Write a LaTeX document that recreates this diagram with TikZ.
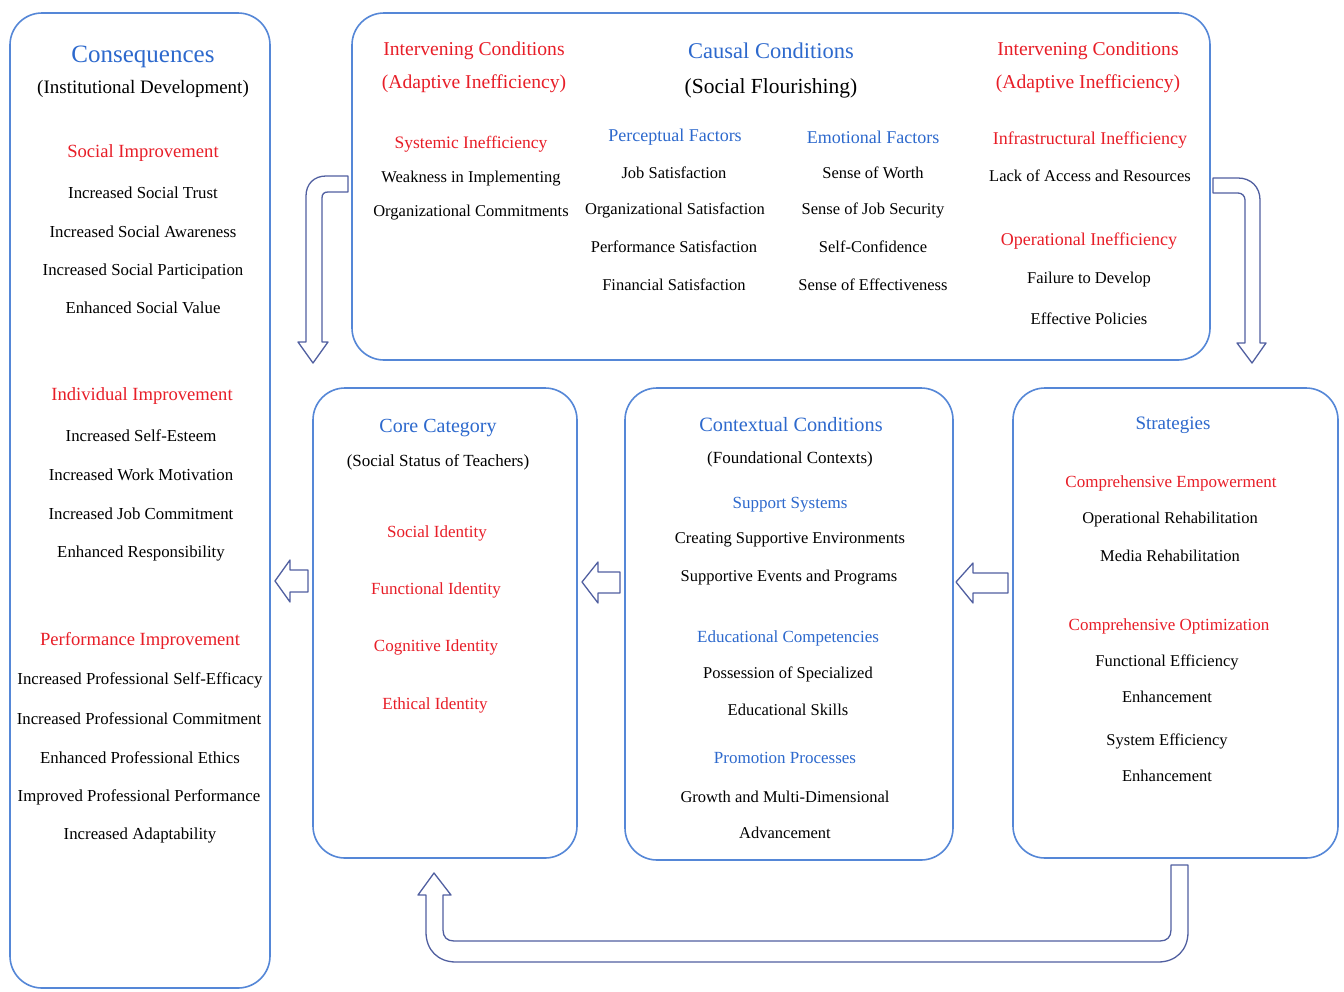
\documentclass[tikz,border=0pt]{standalone}
\usepackage{fontspec}
\setmainfont{Liberation Serif}
\definecolor{boxblue}{RGB}{85,135,215}
\definecolor{arrowc}{RGB}{80,95,160}
\definecolor{headblue}{RGB}{45,105,205}
\definecolor{headred}{RGB}{232,30,40}
\begin{document}
\begin{tikzpicture}[x=1pt,y=-1pt,
  box/.style={draw=boxblue, line width=1.6pt, rounded corners=32pt, inner sep=0pt, outer sep=0pt},
  tx/.style={font=\fontsize{16.5}{19}\selectfont, text=black, inner sep=0pt},
  ltx/.style={font=\fontsize{16.8}{20}\selectfont, text=black, inner sep=0pt},
  sub/.style={font=\fontsize{19}{22}\selectfont, text=black, inner sep=0pt},
  rh/.style={font=\fontsize{17}{20}\selectfont, text=headred, inner sep=0pt},
  trh/.style={font=\fontsize{18}{21}\selectfont, text=headred, inner sep=0pt},
  lrh/.style={font=\fontsize{18.6}{22}\selectfont, text=headred, inner sep=0pt},
  bh/.style={font=\fontsize{17}{20}\selectfont, text=headblue, inner sep=0pt},
  ttl/.style={font=\fontsize{21}{25}\selectfont, text=headblue, inner sep=0pt},
  rttl/.style={font=\fontsize{19.6}{23}\selectfont, text=headred, inner sep=0pt},
  arr/.style={draw=arrowc, line width=1.3pt, fill=white, line join=round}]
\useasboundingbox (0,0) rectangle (1344,991);
\fill[white] (0,0) rectangle (1344,991);

% boxes
\node[box, minimum width=260, minimum height=975, anchor=north west] (cons) at (10,13) {};
\node[box, minimum width=858, minimum height=347, anchor=north west] (top) at (352,13) {};
\node[box, minimum width=264, minimum height=470, anchor=north west] (core) at (313,388) {};
\node[box, minimum width=328, minimum height=472, anchor=north west] (ctx) at (625,388) {};
\node[box, minimum width=325, minimum height=470, anchor=north west] (strat) at (1013,388) {};

% arrows
\draw[arr] (348,176) -- (326,176) .. controls (314,176) and (306,184) .. (306,196) -- (306,342) -- (298,342) -- (313,363) -- (328,342) -- (322,342) -- (322,198) .. controls (322,194) and (324,192) .. (328,192) -- (348,192) -- cycle;
\draw[arr] (1213,178) -- (1238,178) .. controls (1251,178) and (1260,187) .. (1260,200) -- (1260,343) -- (1266,343) -- (1252,363) -- (1237,343) -- (1245,343) -- (1245,200) .. controls (1245,196) and (1242,193) .. (1238,193) -- (1213,193) -- cycle;
\draw[arr] (275,581) -- (290,560) -- (290,570) -- (308,570) -- (308,592) -- (290,592) -- (290,602) -- cycle;
\draw[arr] (582,582) -- (598,562) -- (598,572) -- (620,572) -- (620,593) -- (598,593) -- (598,603) -- cycle;
\draw[arr] (956,582) -- (973,563) -- (973,573) -- (1008,573) -- (1008,593) -- (973,593) -- (973,603) -- cycle;
\draw[arr] (1171,865) -- (1188,865) -- (1188,932) .. controls (1188,950) and (1176,962) .. (1158,962) -- (456,962) .. controls (438,962) and (426,950) .. (426,932) -- (426,895) -- (418,895) -- (434,873) -- (451,895) -- (443,895) -- (443,930) .. controls (443,937) and (447,941) .. (454,941) -- (1160,941) .. controls (1167,941) and (1171,937) .. (1171,930) -- cycle;

% Consequences
\node[ttl, font=\fontsize{25}{29}\selectfont] (c0) at (143,57) {Consequences};
\node[sub] (c1) at (143,89) {(Institutional Development)};
\node[lrh] (c2) at (143,153) {Social Improvement};
\node[ltx] (c3) at (143,193) {Increased Social Trust};
\node[ltx] (c4) at (143,232) {Increased Social Awareness};
\node[ltx] (c5) at (143,271) {Increased Social Participation};
\node[ltx] (c6) at (143,308) {Enhanced Social Value};
\node[lrh] (c7) at (142,396) {Individual Improvement};
\node[ltx] (c8) at (141,436) {Increased Self-Esteem};
\node[ltx] (c9) at (141,475) {Increased Work Motivation};
\node[ltx] (c10) at (141,514) {Increased Job Commitment};
\node[ltx] (c11) at (141,553) {Enhanced Responsibility};
\node[lrh] (c12) at (140,641) {Performance Improvement};
\node[ltx] (c13) at (140,680) {Increased Professional Self-Efficacy};
\node[ltx] (c14) at (139,719) {Increased Professional Commitment};
\node[ltx] (c15) at (140,758) {Enhanced Professional Ethics};
\node[ltx] (c16) at (139,797) {Improved Professional Performance};
\node[ltx] (c17) at (140,835) {Increased Adaptability};

% Top box
\node[rttl] (t1) at (474,51) {Intervening Conditions};
\node[rttl] (t2) at (474,84) {(Adaptive Inefficiency)};
\node[ttl, font=\fontsize{22.5}{26}\selectfont] (t3) at (771,51) {Causal Conditions};
\node[sub, font=\fontsize{21.5}{25}\selectfont] (t4) at (771,88) {(Social Flourishing)};
\node[rttl] (t5) at (1088,51) {Intervening Conditions};
\node[rttl] (t6) at (1088,84) {(Adaptive Inefficiency)};
\node[trh, font=\fontsize{17.5}{21}\selectfont] (t7) at (471,144) {Systemic Inefficiency};
\node[tx] (t8) at (471,179) {Weakness in Implementing};
\node[tx] (t9) at (471,213) {Organizational Commitments};
\node[trh, text=headblue] (t10) at (675,137) {Perceptual Factors};
\node[tx] (t11) at (674,173) {Job Satisfaction};
\node[tx] (t12) at (675,210) {Organizational Satisfaction};
\node[tx] (t13) at (674,247) {Performance Satisfaction};
\node[tx] (t14) at (674,285) {Financial Satisfaction};
\node[trh, text=headblue] (t15) at (873,137) {Emotional Factors};
\node[tx] (t16) at (873,173) {Sense of Worth};
\node[tx] (t17) at (873,210) {Sense of Job Security};
\node[tx] (t18) at (873,247) {Self-Confidence};
\node[tx] (t19) at (873,285) {Sense of Effectiveness};
\node[trh] (t20) at (1090,140) {Infrastructural Inefficiency};
\node[tx] (t21) at (1090,176) {Lack of Access and Resources};
\node[trh] (t22) at (1089,241) {Operational Inefficiency};
\node[tx] (t23) at (1089,280) {Failure to Develop};
\node[tx] (t24) at (1089,319) {Effective Policies};

% Core category
\node[ttl, font=\fontsize{20}{24}\selectfont] (k1) at (438,428) {Core Category};
\node[sub, font=\fontsize{17}{20}\selectfont] (k2) at (438,462) {(Social Status of Teachers)};
\node[rh] (k3) at (437,533) {Social Identity};
\node[rh] (k4) at (436,590) {Functional Identity};
\node[rh] (k5) at (436,647) {Cognitive Identity};
\node[rh] (k6) at (435,705) {Ethical Identity};

% Contextual
\node[ttl, font=\fontsize{20.3}{24}\selectfont] (x1) at (791,425) {Contextual Conditions};
\node[sub, font=\fontsize{17}{20}\selectfont] (x2) at (790,459) {(Foundational Contexts)};
\node[bh] (x3) at (790,505) {Support Systems};
\node[tx] (x4) at (790,540) {Creating Supportive Environments};
\node[tx] (x5) at (789,578) {Supportive Events and Programs};
\node[bh] (x6) at (788,638) {Educational Competencies};
\node[tx] (x7) at (788,674) {Possession of Specialized};
\node[tx] (x8) at (788,710) {Educational Skills};
\node[bh] (x9) at (785,758) {Promotion Processes};
\node[tx] (x10) at (785,797) {Growth and Multi-Dimensional};
\node[tx] (x11) at (785,833) {Advancement};

% Strategies
\node[ttl, font=\fontsize{19}{23}\selectfont] (s1) at (1173,425) {Strategies};
\node[rh] (s2) at (1171,483) {Comprehensive Empowerment};
\node[tx] (s3) at (1170,520) {Operational Rehabilitation};
\node[tx] (s4) at (1170,556) {Media Rehabilitation};
\node[rh] (s5) at (1169,626) {Comprehensive Optimization};
\node[tx] (s6) at (1167,662) {Functional Efficiency};
\node[tx] (s7) at (1167,697) {Enhancement};
\node[tx] (s8) at (1167,741) {System Efficiency};
\node[tx] (s9) at (1167,776) {Enhancement};
\end{tikzpicture}
\end{document}
